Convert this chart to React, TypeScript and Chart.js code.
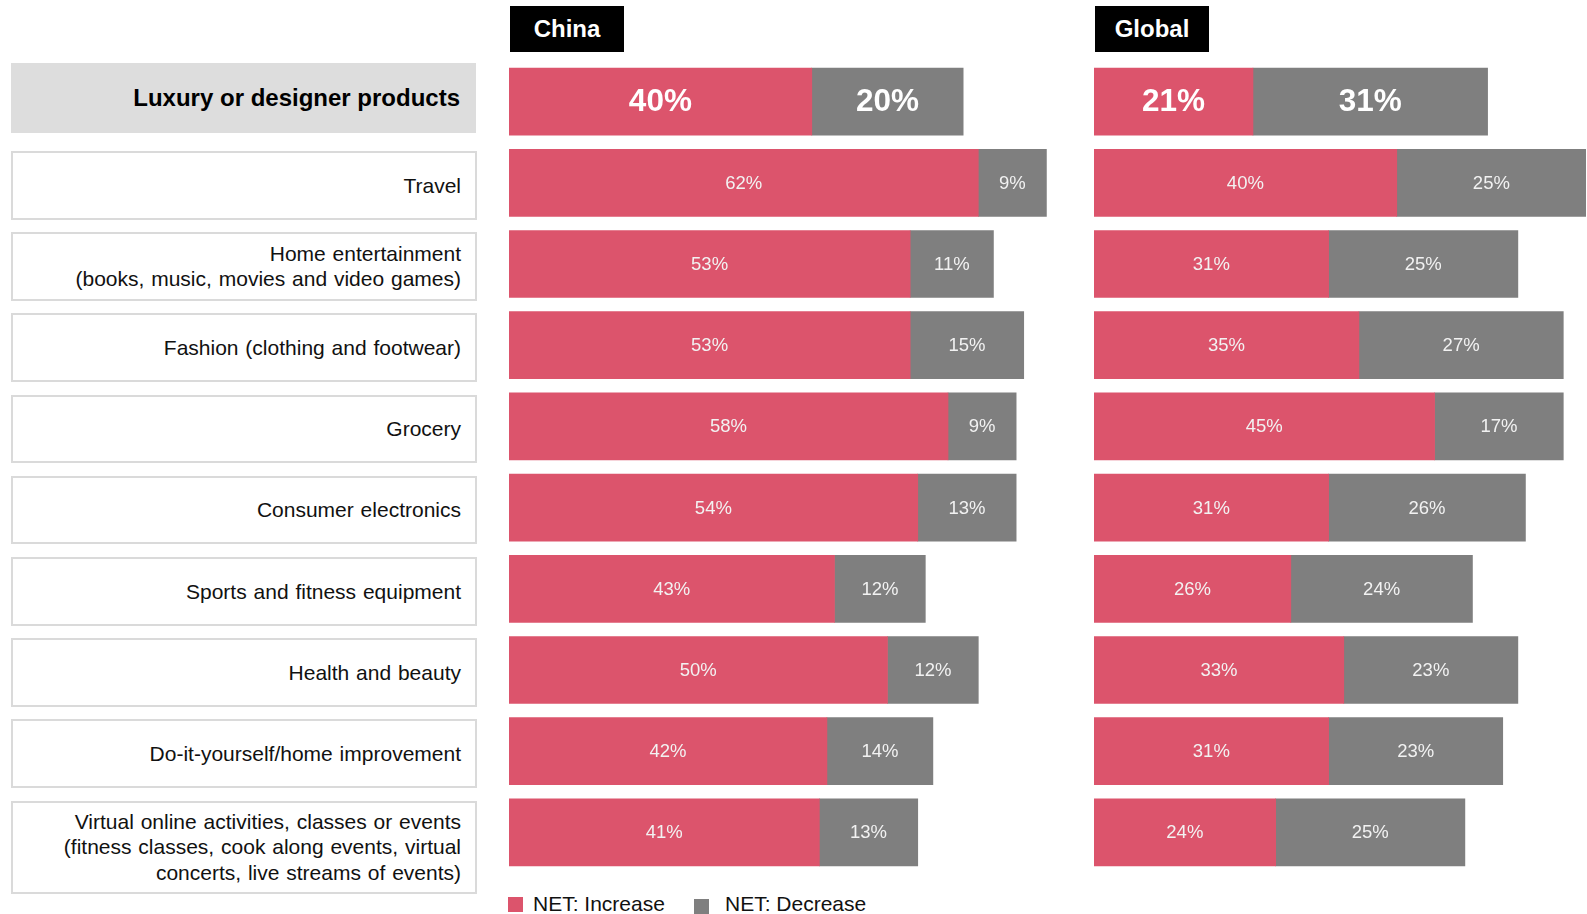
import React, { useEffect, useRef } from "react";
import { Chart, registerables } from "chart.js";

Chart.register(...registerables);

const categories = [
  "Luxury or designer products",
  "Travel",
  "Home entertainment\n(books, music, movies and video games)",
  "Fashion (clothing and footwear)",
  "Grocery",
  "Consumer electronics",
  "Sports and fitness equipment",
  "Health and beauty",
  "Do-it-yourself/home improvement",
  "Virtual online activities, classes or events\n(fitness classes, cook along events, virtual\nconcerts, live streams of events)",
];

const chinaIncrease = [40, 62, 53, 53, 58, 54, 43, 50, 42, 41];
const chinaDecrease = [20, 9, 11, 15, 9, 13, 12, 12, 14, 13];
const globalIncrease = [21, 40, 31, 35, 45, 31, 26, 33, 31, 24];
const globalDecrease = [31, 25, 25, 27, 17, 26, 24, 23, 23, 25];

const seriesNames = ["NET: Increase", "NET: Decrease"];
const panelTitles = ["China", "Global"];

const RED = "#DC546C";
const GREY = "#7F7F7F";
const FONT = '"Liberation Sans", Arial, sans-serif';

const PX_PER_PCT = 7.569;
const CHART_TOP = 61;
const CHART_H = 812;

const valueLabels = {
  id: "valueLabels",
  afterDatasetsDraw(chart: any) {
    const ctx = chart.ctx;
    ctx.save();
    ctx.textAlign = "center";
    ctx.textBaseline = "middle";
    chart.data.datasets.forEach((ds: any, d: number) => {
      const meta = chart.getDatasetMeta(d);
      meta.data.forEach((bar: any, i: number) => {
        const p = bar.getProps(["x", "base", "y"], true);
        const cx = (p.x + p.base) / 2;
        if (i === 0) {
          ctx.font = `bold 31.5px ${FONT}`;
          ctx.fillStyle = "#ffffff";
          ctx.fillText(ds.data[i] + "%", cx, p.y + 1);
        } else {
          ctx.font = `18.5px ${FONT}`;
          ctx.fillStyle = "#f2f2f2";
          ctx.fillText(ds.data[i] + "%", cx, p.y + 1);
        }
      });
    });
    ctx.restore();
  },
};

function makeChart(canvas: HTMLCanvasElement, inc: number[], dec: number[], max: number) {
  return new Chart(canvas, {
    type: "bar",
    data: {
      labels: categories,
      datasets: [
        { label: seriesNames[0], data: inc, backgroundColor: RED, borderWidth: 0, barThickness: 67 },
        { label: seriesNames[1], data: dec, backgroundColor: GREY, borderWidth: 0, barThickness: 67 },
      ],
    },
    options: {
      indexAxis: "y",
      responsive: false,
      maintainAspectRatio: false,
      animation: false,
      layout: { padding: 0 },
      plugins: { legend: { display: false }, tooltip: { enabled: false } },
      scales: {
        x: { stacked: true, min: 0, max, display: false },
        y: { stacked: true, display: false },
      },
    },
    plugins: [valueLabels],
  } as any);
}

const chinaMax = 72;
const globalMax = 65;

export default function App() {
  const chinaRef = useRef<HTMLCanvasElement>(null);
  const globalRef = useRef<HTMLCanvasElement>(null);

  useEffect(() => {
    const c1 = makeChart(chinaRef.current!, chinaIncrease, chinaDecrease, chinaMax);
    const c2 = makeChart(globalRef.current!, globalIncrease, globalDecrease, globalMax);
    return () => {
      c1.destroy();
      c2.destroy();
    };
  }, []);

  const chinaW = Math.round(chinaMax * PX_PER_PCT);
  const globalW = Math.round(globalMax * PX_PER_PCT);

  const boxStyle = (top: number, height: number): React.CSSProperties => ({
    position: "absolute",
    left: 11,
    top,
    width: 466,
    height,
    boxSizing: "border-box",
    border: "2px solid #dadada",
    display: "flex",
    alignItems: "center",
    justifyContent: "flex-end",
    paddingRight: 14,
    textAlign: "right",
    fontSize: 21,
    lineHeight: "25.5px",
    color: "#111",
    whiteSpace: "pre-line",
    wordSpacing: 1,
  });

  const header = (left: number, text: string) => (
    <div
      style={{
        position: "absolute",
        left,
        top: 6,
        width: 114,
        height: 46,
        background: "#000",
        color: "#fff",
        fontWeight: "bold",
        fontSize: 24,
        display: "flex",
        alignItems: "center",
        justifyContent: "center",
      }}
    >
      {text}
    </div>
  );

  return (
    <div
      style={{
        position: "absolute",
        left: 0,
        top: 0,
        width: 1587,
        height: 914,
        overflow: "hidden",
        background: "#fff",
        fontFamily: FONT,
      }}
    >
      {header(510, panelTitles[0])}
      {header(1095, panelTitles[1])}

      <div
        style={{
          position: "absolute",
          left: 11,
          top: 63,
          width: 465,
          height: 70,
          background: "#dddddd",
          display: "flex",
          alignItems: "center",
          justifyContent: "flex-end",
          paddingRight: 16,
          boxSizing: "border-box",
          fontWeight: "bold",
          fontSize: 24,
          color: "#000",
        }}
      >
        {categories[0]}
      </div>

      {categories.slice(1).map((c, i) => {
        const last = i === categories.length - 2;
        const top = 151 + i * 81.2;
        return (
          <div key={i} style={boxStyle(top, last ? 93 : 68.5)}>
            {c}
          </div>
        );
      })}

      <canvas
        ref={chinaRef}
        width={chinaW}
        height={CHART_H}
        style={{ position: "absolute", left: 509, top: CHART_TOP, width: chinaW, height: CHART_H }}
      />
      <canvas
        ref={globalRef}
        width={globalW}
        height={CHART_H}
        style={{ position: "absolute", left: 1094, top: CHART_TOP, width: globalW, height: CHART_H }}
      />

      <div style={{ position: "absolute", left: 508, top: 897, width: 15, height: 15, background: RED }} />
      <div style={{ position: "absolute", left: 533, top: 893, fontSize: 21, lineHeight: "21px", color: "#111", whiteSpace: "nowrap" }}>
        {seriesNames[0]}
      </div>
      <div style={{ position: "absolute", left: 694, top: 899, width: 15, height: 15, background: GREY }} />
      <div style={{ position: "absolute", left: 725, top: 893, fontSize: 21, lineHeight: "21px", color: "#111", whiteSpace: "nowrap" }}>
        {seriesNames[1]}
      </div>
    </div>
  );
}
